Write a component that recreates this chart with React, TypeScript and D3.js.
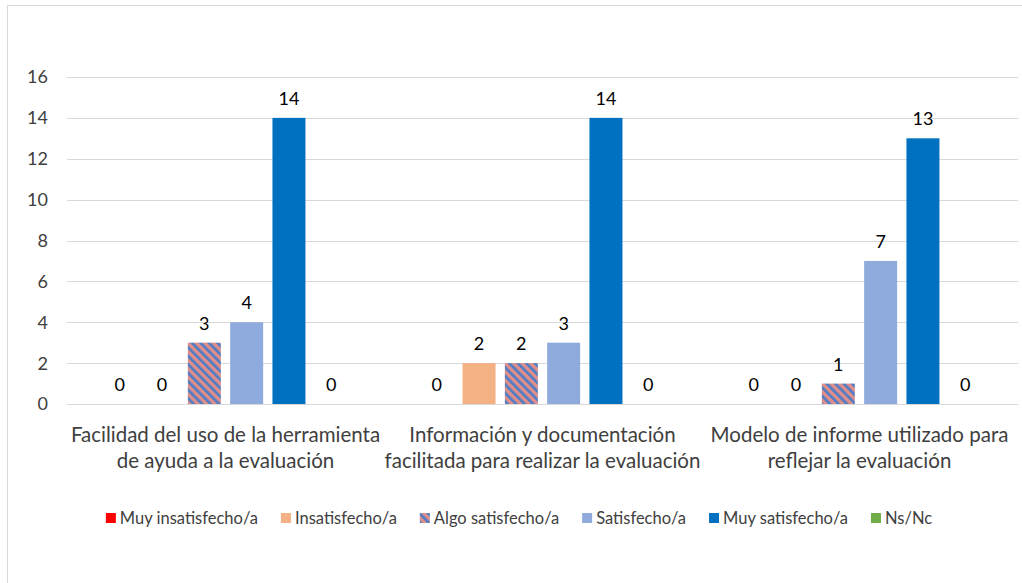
import React, { useEffect, useRef } from "react";
import * as d3 from "d3";

const categories = [
  ["Facilidad del uso de la herramienta", "de ayuda a la evaluación"],
  ["Información y documentación", "facilitada para realizar la evaluación"],
  ["Modelo de informe utilizado para", "reflejar la evaluación"],
];
const seriesNames = [
  "Muy insatisfecho/a",
  "Insatisfecho/a",
  "Algo satisfecho/a",
  "Satisfecho/a",
  "Muy satisfecho/a",
  "Ns/Nc",
];
const seriesColors = ["#FF0000", "#F4B183", "url(#hatch)", "#8FAADC", "#0070C0", "#70AD47"];
// values[series][category]
const muyInsatisfecho = [0, 0, 0];
const insatisfecho = [0, 2, 0];
const algoSatisfecho = [3, 2, 1];
const satisfecho = [4, 3, 7];
const muySatisfecho = [14, 14, 13];
const nsnc = [0, 0, 0];
const values = [muyInsatisfecho, insatisfecho, algoSatisfecho, satisfecho, muySatisfecho, nsnc];
const yTicks = [0, 2, 4, 6, 8, 10, 12, 14, 16];

const W = 1022;
const H = 583;
const FONT = "Lato, 'Open Sans', sans-serif";

export default function App() {
  const ref = useRef<SVGSVGElement>(null);

  useEffect(() => {
    const svg = d3.select(ref.current);
    svg.selectAll("*").remove();

    const defs = svg.append("defs");
    const pat = defs
      .append("pattern")
      .attr("id", "hatch")
      .attr("patternUnits", "userSpaceOnUse")
      .attr("width", 6)
      .attr("height", 6)
      .attr("patternTransform", "rotate(-45)");
    pat.append("rect").attr("width", 6).attr("height", 6).attr("fill", "#DF8E8B");
    pat.append("rect").attr("width", 2.6).attr("height", 6).attr("fill", "#4C7CC6");

    svg
      .append("rect")
      .attr("x", 7.5)
      .attr("y", 5.5)
      .attr("width", W + 10)
      .attr("height", H + 10)
      .attr("fill", "#fff")
      .attr("stroke", "#D9D9D9");

    const left = 67;
    const right = 1018;
    const y = d3.scaleLinear().domain([0, 16]).range([404, 77]);
    const x0 = d3
      .scaleBand<number>()
      .domain(categories.map((_, i) => i))
      .range([left, right]);
    const x1 = d3
      .scaleBand<number>()
      .domain(seriesNames.map((_, i) => i))
      .range([0, x0.bandwidth()])
      .paddingInner(0.22)
      .paddingOuter(0.857);

    const g = svg.append("g");
    g.selectAll("line.grid")
      .data(yTicks)
      .join("line")
      .attr("x1", left)
      .attr("x2", right)
      .attr("y1", (d) => Math.round(y(d)) + 0.5)
      .attr("y2", (d) => Math.round(y(d)) + 0.5)
      .attr("stroke", "#D9D9D9")
      .attr("stroke-width", 1);

    g.selectAll("text.tick")
      .data(yTicks)
      .join("text")
      .attr("x", 48)
      .attr("y", (d) => y(d))
      .attr("dy", "0.36em")
      .attr("text-anchor", "end")
      .attr("font-family", FONT)
      .attr("font-size", 18)
      .attr("fill", "#404040")
      .text((d) => d);

    seriesNames.forEach((_, s) => {
      const gs = g.append("g");
      gs.selectAll("rect")
        .data(values[s])
        .join("rect")
        .attr("x", (_, c) => x0(c)! + x1(s)!)
        .attr("width", x1.bandwidth())
        .attr("y", (d) => y(d))
        .attr("height", (d) => y(0) - y(d))
        .attr("fill", seriesColors[s]);
      gs.selectAll("text")
        .data(values[s])
        .join("text")
        .attr("x", (_, c) => x0(c)! + x1(s)! + x1.bandwidth() / 2)
        .attr("y", (d) => y(d) - 13)
        .attr("text-anchor", "middle")
        .attr("font-family", FONT)
        .attr("font-size", 18)
        .attr("fill", "#000")
        .text((d) => d);
    });

    const cat = g
      .selectAll("text.cat")
      .data(categories)
      .join("text")
      .attr("text-anchor", "middle")
      .attr("font-family", FONT)
      .attr("font-size", 20.5)
      .attr("fill", "#404040");
    cat.each(function (lines, i) {
      const t = d3.select(this);
      lines.forEach((ln, k) => {
        t.append("tspan")
          .attr("x", x0(i)! + x0.bandwidth() / 2)
          .attr("y", 442 + k * 26)
          .text(ln);
      });
    });

    // legend
    const lg = svg.append("g");
    const items = seriesNames.map((name, i) => {
      const it = lg.append("g");
      it.append("rect")
        .attr("width", 10)
        .attr("height", 10)
        .attr("y", -11)
        .attr("fill", seriesColors[i]);
      const t = it
        .append("text")
        .attr("x", 14)
        .attr("y", 0)
        .attr("font-family", FONT)
        .attr("font-size", 16.5)
        .attr("fill", "#404040")
        .text(name);
      const w = 14 + (t.node() as SVGTextElement).getComputedTextLength();
      return { it, w };
    });
    const gap = 23;
    const total = items.reduce((a, b) => a + b.w, 0) + gap * (items.length - 1);
    let cx = 519 - total / 2;
    items.forEach(({ it, w }) => {
      it.attr("transform", `translate(${cx},524)`);
      cx += w + gap;
    });
  }, []);

  return (
    <svg
      ref={ref}
      width={W}
      height={H}
      style={{ position: "absolute", left: 0, top: 0, background: "#fff" }}
    />
  );
}
